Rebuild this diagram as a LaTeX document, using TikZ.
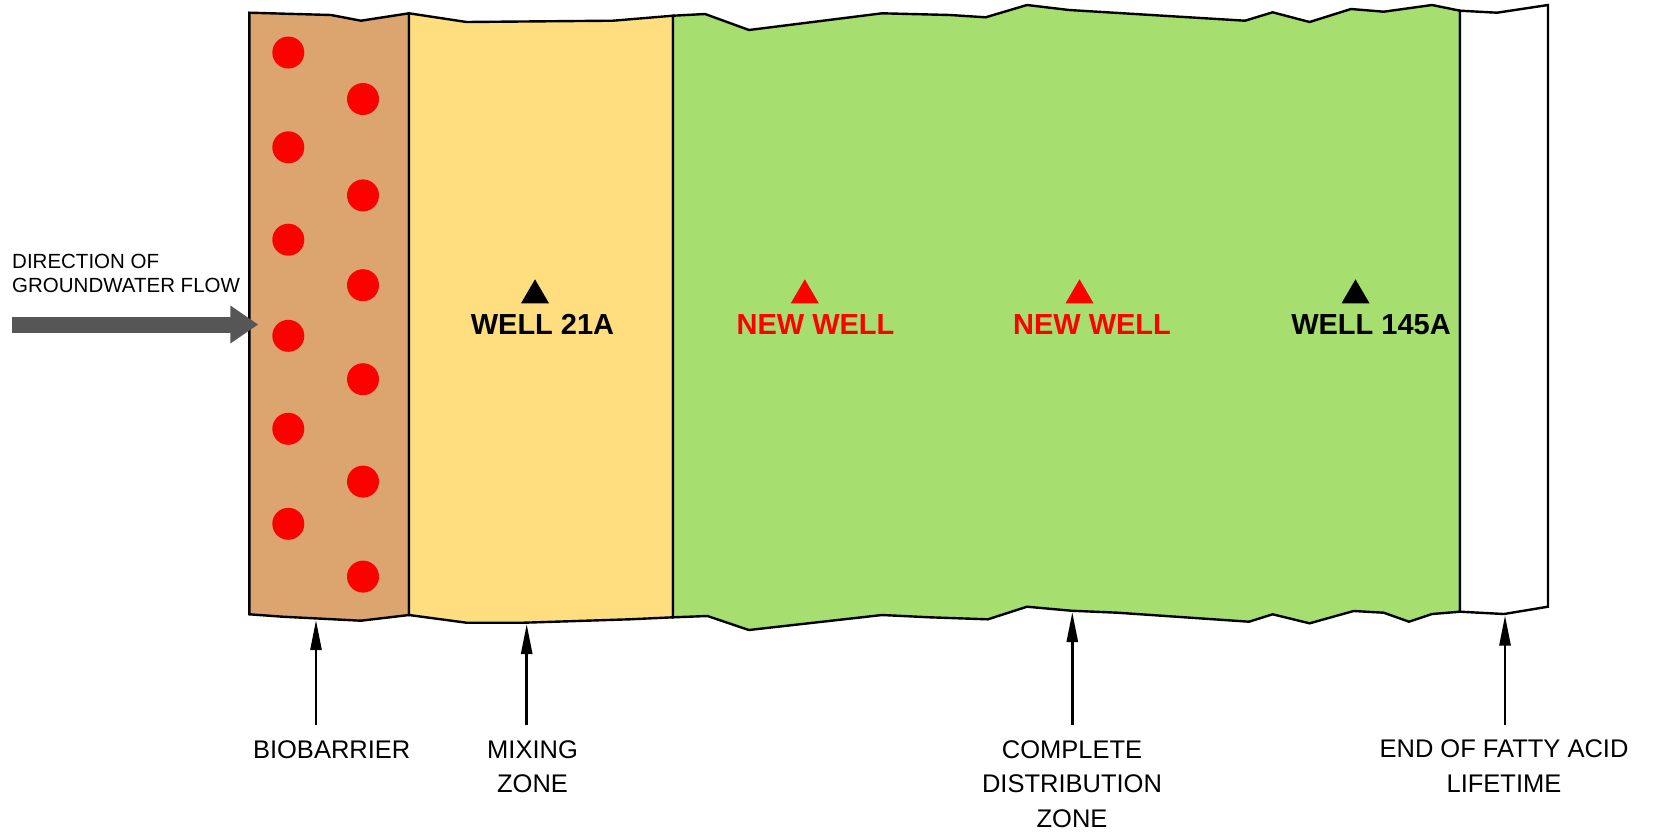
\documentclass[tikz,border=0pt]{standalone}
\usepackage{fontspec}
\setmainfont{Liberation Sans}
\usetikzlibrary{arrows.meta}
\definecolor{barrier}{RGB}{220,164,110}
\definecolor{mixing}{RGB}{255,222,128}
\definecolor{spread}{RGB}{166,222,112}
\definecolor{flowgray}{RGB}{86,86,86}
\definecolor{wellred}{RGB}{255,0,0}
\begin{document}
\begin{tikzpicture}[x=1pt,y=-1pt,
  zone/.style={draw=black, line width=2.4pt, line join=miter},
  dot/.style={fill=wellred},
  pointer/.style={line width=2.6pt, -{Triangle[length=30pt,width=11pt]}},
  zonelabel/.style={font=\fontsize{25.5}{34.5}\selectfont, align=center, inner sep=0pt, anchor=base},
  welllabel/.style={font=\fontsize{29}{34}\selectfont\bfseries, inner sep=0pt, anchor=base},
  wellmark/.pic={\fill (-14,12) -- (14,12) -- (0,-12) -- cycle;},
]
\useasboundingbox (0,0) rectangle (1656,831);

% biobarrier strip
\path[zone, fill=barrier] (249.3,12.7) -- (331,15) -- (360.9,20.7) -- (409,13.3)
  -- (409,615) -- (360.9,620.7) -- (282.8,616.7) -- (249.3,614.3) -- cycle;

% mixing zone
\path[zone, fill=mixing] (409,13.3) -- (466.5,22) -- (613,20.7) -- (673,15.7)
  -- (673,617.3) -- (629.5,619.3) -- (523.8,622.7) -- (466.5,622.7) -- (409,615) -- cycle;

% complete distribution zone
\path[zone, fill=spread] (673,15.7) -- (705,14) -- (749,30) -- (882,13.3) -- (950,15)
  -- (985.6,17.3) -- (1027,5) -- (1069,10) -- (1245,20.7) -- (1272.6,12.3)
  -- (1309.6,22) -- (1351,9) -- (1383.7,11.7) -- (1432,5) -- (1460,10.7)
  -- (1460,611.7) -- (1432,614) -- (1409,621.7) -- (1383.7,612.7) -- (1353.6,611)
  -- (1309.6,623.3) -- (1272.6,614.3) -- (1249,621.7) -- (1117.5,612.7)
  -- (1071,610.7) -- (1027,606.7) -- (987.9,619.3) -- (930,617.3) -- (882,615)
  -- (748.8,630) -- (707.5,616) -- (673,617.3) -- cycle;

% beyond the fatty acid lifetime
\path[zone, fill=white] (1460,10.7) -- (1497,12.7) -- (1548,5)
  -- (1548,606.7) -- (1504,614) -- (1460,611.7) -- cycle;

% injection points in the biobarrier
\foreach \y in {52.5,147.3,239.7,335.8,428.8,523.8}
  \fill[dot] (288.3,\y) circle[radius=16pt];
\foreach \y in {99,195.4,285.2,379.2,481.6,576.6}
  \fill[dot] (363,\y) circle[radius=16pt];

% groundwater flow
\node[font=\fontsize{20.5}{24}\selectfont, align=left, inner sep=0pt, anchor=base west]
  (flowlabel) at (12,292.3) {DIRECTION OF\\GROUNDWATER FLOW};
\coordinate (flowTail) at (11.7,324.5);
\coordinate (flowTip) at (258.3,324.5);
\draw[flowgray, line width=16pt, -{Triangle[length=28pt,width=36pt]}] (flowTail) -- (flowTip);

% wells
\pic[black] at (535,291.3) {wellmark};
\node[welllabel] (well21) at (542.5,334) {WELL 21A};
\pic[wellred] at (804.8,291.3) {wellmark};
\node[welllabel, text=wellred] (newwellA) at (815.5,334) {NEW WELL};
\pic[wellred] at (1079.5,291.3) {wellmark};
\node[welllabel, text=wellred] (newwellB) at (1092,334) {NEW WELL};
\pic[black] at (1355.5,291.3) {wellmark};
\node[welllabel] (well145) at (1371,334) {WELL 145A};

% zone labels
\node[zonelabel] (biolabel) at (331.7,758) {BIOBARRIER};
\node[zonelabel] (mixlabel) at (532.5,792.5) {MIXING\\ZONE};
\node[zonelabel] (distlabel) at (1072,827) {COMPLETE\\DISTRIBUTION\\ZONE};
\node[zonelabel] (endlabel) at (1504,792) {END OF FATTY ACID\\LIFETIME};

% pointers to the zone boundaries
\coordinate (bioTail) at (316,725);
\coordinate (bioTip) at (316,620);
\coordinate (mixTail) at (526.7,725);
\coordinate (mixTip) at (526.7,624);
\coordinate (distTail) at (1072.3,725);
\coordinate (distTip) at (1072.3,612);
\coordinate (endTail) at (1505,725);
\coordinate (endTip) at (1505,615.5);
\draw[pointer] (bioTail) -- (bioTip);
\draw[pointer] (mixTail) -- (mixTip);
\draw[pointer] (distTail) -- (distTip);
\draw[pointer] (endTail) -- (endTip);
\end{tikzpicture}
\end{document}
